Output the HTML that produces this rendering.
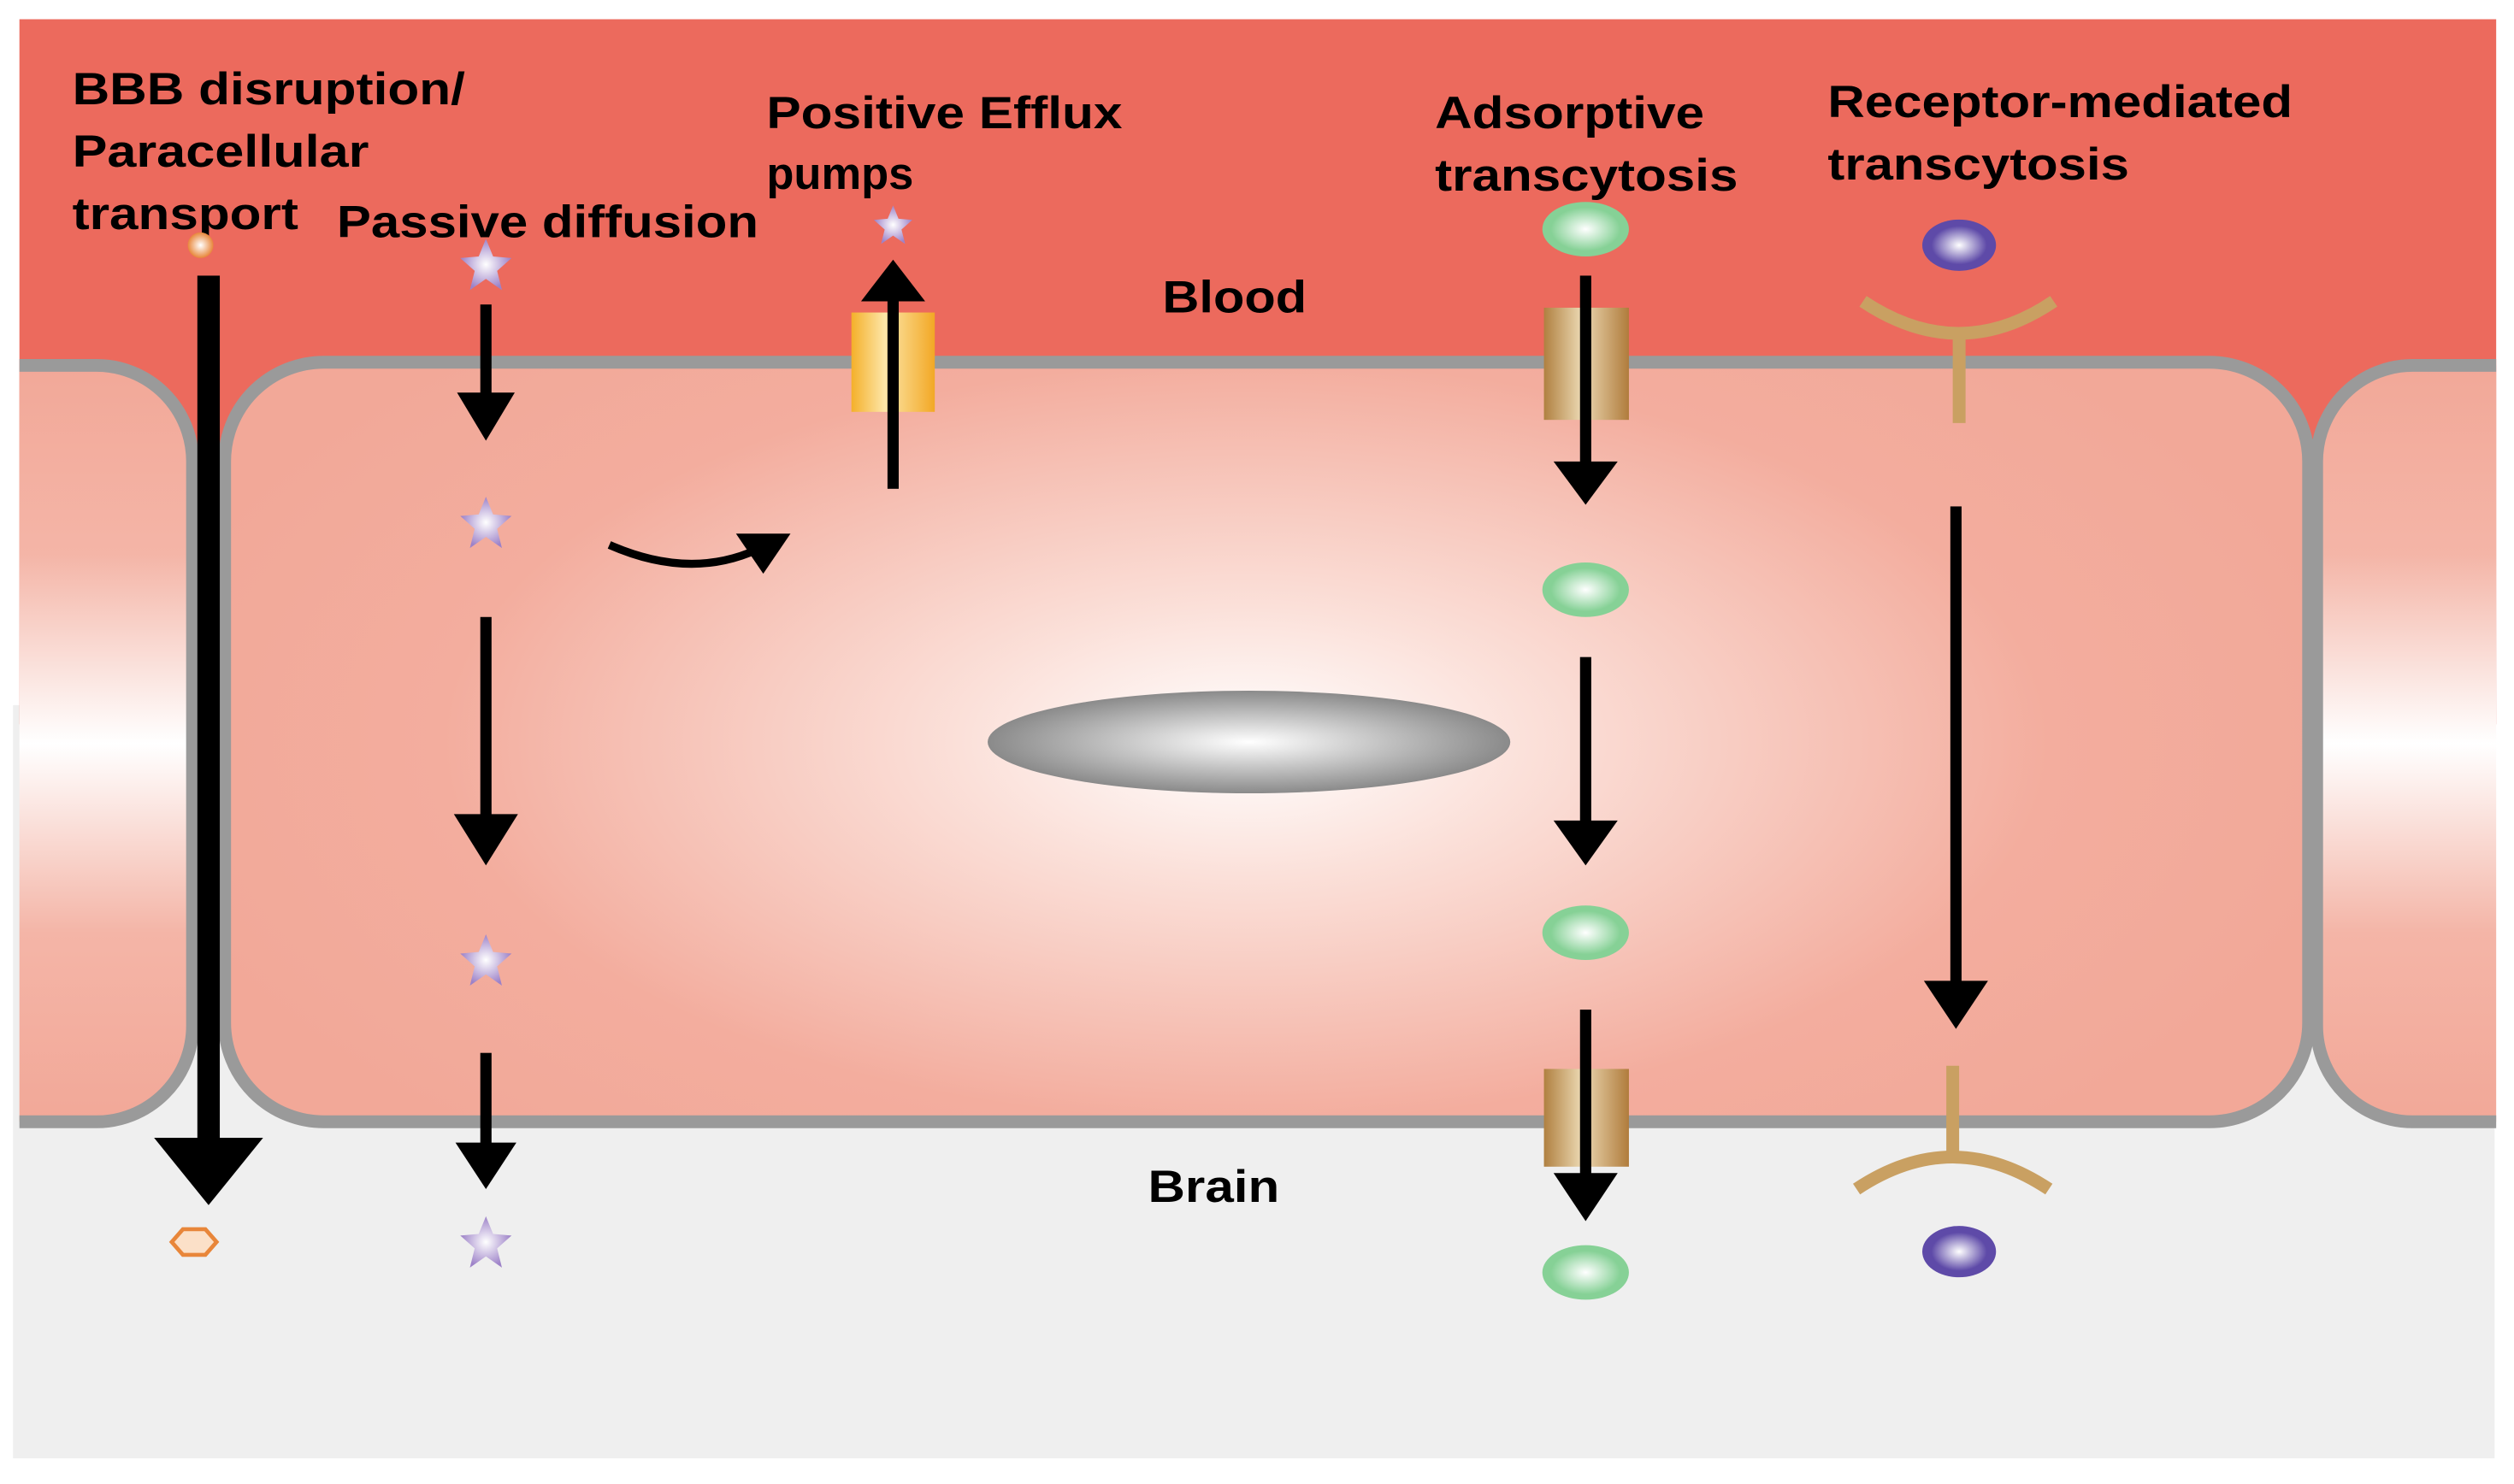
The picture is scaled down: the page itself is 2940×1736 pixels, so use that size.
<!DOCTYPE html>
<html><head><style>html,body{margin:0;padding:0;background:#fff}svg{display:block}</style></head>
<body>
<svg width="2940" height="1736" viewBox="0 0 1568 926" xmlns="http://www.w3.org/2000/svg" font-family="'Liberation Sans', sans-serif" font-weight="bold">
<defs>
<radialGradient id="cell" cx="0.49" cy="0.5" r="0.55" gradientTransform="translate(0.49 0.5) scale(1 1.3) translate(-0.49 -0.5)">
<stop offset="0" stop-color="#fff"/><stop offset="0.25" stop-color="#fbe0d9"/><stop offset="0.7" stop-color="#f3ad9e"/><stop offset="1" stop-color="#f2a898"/></radialGradient>
<linearGradient id="side" x1="0" y1="0" x2="0" y2="1"><stop offset="0" stop-color="#f2a898"/><stop offset="0.25" stop-color="#f4b5a7"/><stop offset="0.5" stop-color="#fff"/><stop offset="0.75" stop-color="#f4b5a7"/><stop offset="1" stop-color="#f2a898"/></linearGradient>
<radialGradient id="nuc"><stop offset="0" stop-color="#fff"/><stop offset="1" stop-color="#8a8a8a"/></radialGradient>
<radialGradient id="grn"><stop offset="0" stop-color="#fff"/><stop offset="0.8" stop-color="#86d196"/></radialGradient>
<radialGradient id="pur"><stop offset="0" stop-color="#fff"/><stop offset="0.75" stop-color="#5e4aa8"/></radialGradient>
<radialGradient id="str"><stop offset="0" stop-color="#fff"/><stop offset="1" stop-color="#9d82c8"/></radialGradient>
<radialGradient id="org"><stop offset="0" stop-color="#fff"/><stop offset="1" stop-color="#e8863a"/></radialGradient>
<linearGradient id="yel" x1="0" x2="1"><stop offset="0" stop-color="#f4b02a"/><stop offset="0.4" stop-color="#fde6a8"/><stop offset="1" stop-color="#f2a825"/></linearGradient>
<linearGradient id="brn" x1="0" x2="1"><stop offset="0" stop-color="#b08040"/><stop offset="0.45" stop-color="#ecd9b4"/><stop offset="1" stop-color="#b07c3c"/></linearGradient>
<polygon id="st" points="0,-17 4.5,-6 16,-5 7,3 10,15 0,8 -10,15 -7,3 -16,-5 -4.5,-6"/>
</defs>
<rect x="8" y="440" width="1548" height="470" fill="#efefef"/>
<rect x="12" y="12" width="1545" height="440" fill="#ec6a5d"/>
<path d="M12 228 H60 A60 60 0 0 1 120 288 V640 A60 60 0 0 1 60 700 H12 Z" fill="url(#side)"/>
<path d="M12 228 H60 A60 60 0 0 1 120 288 V640 A60 60 0 0 1 60 700 H12" fill="none" stroke="#9a9a9a" stroke-width="8"/>
<rect x="140" y="226" width="1300" height="474" rx="62" fill="url(#cell)" stroke="#9a9a9a" stroke-width="8"/>
<path d="M1557 228 H1505 A60 60 0 0 0 1445 288 V640 A60 60 0 0 0 1505 700 H1557 Z" fill="url(#side)"/>
<path d="M1557 228 H1505 A60 60 0 0 0 1445 288 V640 A60 60 0 0 0 1505 700 H1557" fill="none" stroke="#9a9a9a" stroke-width="8"/>
<ellipse cx="779" cy="463" rx="163" ry="32" fill="url(#nuc)"/>
<g font-size="28" fill="#000">
<text x="45" y="65" textLength="245" lengthAdjust="spacingAndGlyphs">BBB disruption/</text>
<text x="45" y="104" textLength="185" lengthAdjust="spacingAndGlyphs">Paracellular</text>
<text x="45" y="143" textLength="141" lengthAdjust="spacingAndGlyphs">transport</text>
<text x="210" y="148" textLength="263" lengthAdjust="spacingAndGlyphs">Passive diffusion</text>
<text x="478" y="80" textLength="222" lengthAdjust="spacingAndGlyphs">Positive Efflux</text>
<text x="478" y="118">pumps</text>
<text x="725" y="195" textLength="90" lengthAdjust="spacingAndGlyphs">Blood</text>
<text x="895" y="80" textLength="168" lengthAdjust="spacingAndGlyphs">Adsorptive</text>
<text x="895" y="119" textLength="189" lengthAdjust="spacingAndGlyphs">transcytosis</text>
<text x="1140" y="73" textLength="290" lengthAdjust="spacingAndGlyphs">Receptor-mediated</text>
<text x="1140" y="112" textLength="188" lengthAdjust="spacingAndGlyphs">transcytosis</text>
<text x="716" y="750" textLength="82" lengthAdjust="spacingAndGlyphs">Brain</text>
</g>
<circle cx="125" cy="153" r="8" fill="url(#org)"/>
<rect x="123" y="172" width="14" height="545" fill="#000"/>
<polygon points="96,710 164,710 130,752" fill="#000"/>
<polygon points="107,775 114,767 128,767 135,775 128,783 114,783" fill="#fbe0c8" stroke="#e8863a" stroke-width="2.5"/>
<g fill="url(#str)">
<use href="#st" x="303" y="166"/>
<use href="#st" x="303" y="327"/>
<use href="#st" x="303" y="600"/>
<use href="#st" x="303" y="776"/>
<use href="#st" transform="translate(557,141) scale(0.75)"/>
</g>
<g fill="#000">
<rect x="299.5" y="190" width="7" height="60"/><polygon points="285,245 321,245 303,275"/>
<rect x="299.5" y="385" width="7" height="125"/><polygon points="283,508 323,508 303,540"/>
<rect x="299.5" y="657" width="7" height="58"/><polygon points="284,713 322,713 303,742"/>
</g>
<rect x="531" y="195" width="52" height="62" fill="url(#yel)"/>
<rect x="553.5" y="180" width="7" height="125" fill="#000"/>
<polygon points="537,188 577,188 557,162" fill="#000"/>
<path d="M380 340 Q430 362 472 343" fill="none" stroke="#000" stroke-width="5"/>
<polygon points="459,333 493,333 476,358" fill="#000"/>
<g fill="url(#grn)">
<ellipse cx="989" cy="143" rx="27" ry="17"/><ellipse cx="989" cy="368" rx="27" ry="17"/>
<ellipse cx="989" cy="582" rx="27" ry="17"/><ellipse cx="989" cy="794" rx="27" ry="17"/>
</g>
<rect x="963" y="192" width="53" height="70" fill="url(#brn)"/>
<rect x="963" y="667" width="53" height="61" fill="url(#brn)"/>
<g fill="#000">
<rect x="985.5" y="172" width="7" height="118"/><polygon points="969,288 1009,288 989,315"/>
<rect x="985.5" y="410" width="7" height="105"/><polygon points="969,512 1009,512 989,540"/>
<rect x="985.5" y="630" width="7" height="105"/><polygon points="969,732 1009,732 989,762"/>
</g>
<ellipse cx="1222" cy="153" rx="23" ry="16" fill="url(#pur)"/>
<ellipse cx="1222" cy="781" rx="23" ry="16" fill="url(#pur)"/>
<g fill="none" stroke="#c9a062" stroke-width="8">
<path d="M1162 188 Q1222 228 1281 188"/><line x1="1222" y1="207" x2="1222" y2="264"/>
<path d="M1158 742 Q1218 702 1278 742"/><line x1="1218" y1="665" x2="1218" y2="723"/>
</g>
<rect x="1216.5" y="316" width="7" height="300" fill="#000"/>
<polygon points="1200,612 1240,612 1220,642" fill="#000"/>
</svg>
</body></html>
